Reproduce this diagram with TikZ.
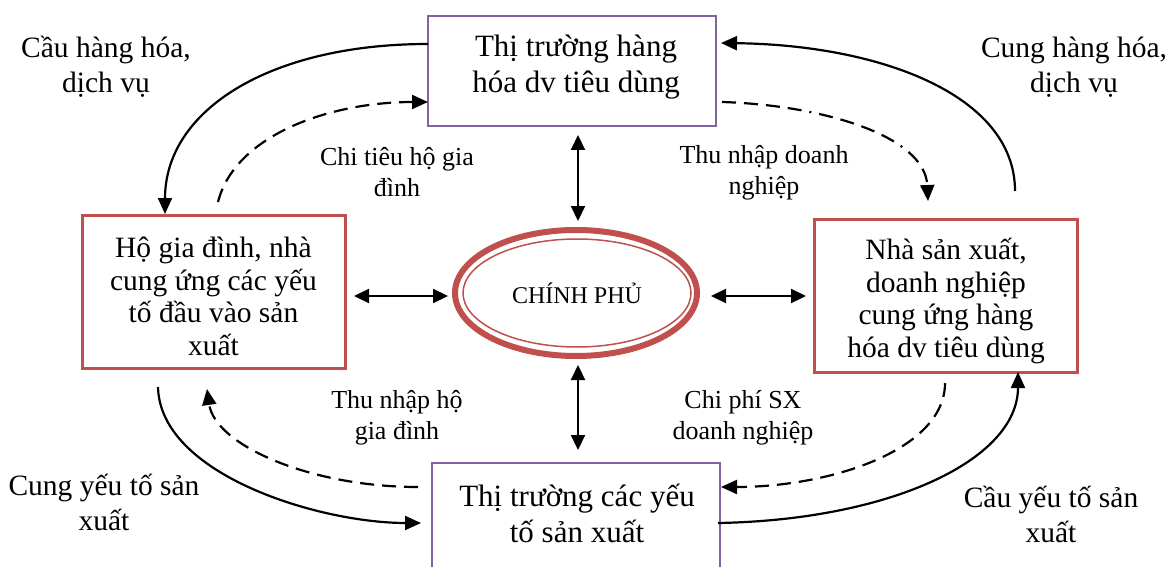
\documentclass[tikz,border=0pt]{standalone}
\usepackage{fontspec}
\setmainfont{Liberation Serif}
\usetikzlibrary{arrows.meta,shapes.geometric}
\definecolor{boxred}{RGB}{192,80,77}
\definecolor{boxpurple}{RGB}{128,100,162}
\tikzset{
  redbox/.style={draw=boxred,line width=3pt,minimum width=263pt,minimum height=153pt,inner sep=0pt},
  redtext/.style={align=center,font=\fontsize{29.5}{32.5}\selectfont,inner sep=0pt},
  purplebox/.style={draw=boxpurple,line width=2pt,minimum width=288pt,minimum height=110pt,inner sep=0pt},
  purpletext/.style={align=center,font=\fontsize{31}{36}\selectfont,inner sep=0pt},
  flow/.style={line width=2.2pt,-{Triangle[length=16pt,width=14pt]}},
  dflow/.style={flow,dash pattern=on 14pt off 8pt},
  ddflow/.style={flow,dash pattern=on 14pt off 8pt on 14pt off 8pt on 14pt off 8pt on 14pt off 8pt on 2pt off 8pt},
  both/.style={line width=2.2pt,{Triangle[length=15pt,width=14pt]}-{Triangle[length=15pt,width=14pt]}},
  biglabel/.style={align=center,font=\fontsize{29.5}{35}\selectfont,inner sep=0pt},
  smalllabel/.style={align=center,font=\fontsize{26}{30.5}\selectfont,inner sep=0pt}
}
\begin{document}
\begin{tikzpicture}[x=1pt,y=-1pt]
\useasboundingbox (0,0) rectangle (1173,567);
\fill[white] (0,0) rectangle (1173,567);
\clip (0,0) rectangle (1173,567);
% boxes
\node[purplebox] (top) at (572,71) {};
\node[purpletext] (toptext) at (576,67) {Thị trường hàng\\hóa dv tiêu dùng};
\node[purplebox,minimum height=140pt] (bot) at (576,533) {};
\node[purpletext] (bottext) at (577,513) {Thị trường các yếu\\tố sản xuất};
\node[redbox] (left) at (213.5,291.5) {};
\node[redtext] (lefttext) at (213.5,296.5) {Hộ gia đình, nhà\\cung ứng các yếu\\tố đầu vào sản\\xuất};
\node[redbox] (right) at (946,295.5) {};
\node[redtext] (righttext) at (946,301) {Nhà sản xuất,\\doanh nghiệp\\cung ứng hàng\\hóa dv tiêu dùng};
% ellipse
\node[ellipse,draw=boxred,line width=6pt,minimum width=242pt,minimum height=126pt,inner sep=0pt] (gov) at (576,293) {};
\node[ellipse,draw=boxred,line width=1.5pt,minimum width=228pt,minimum height=108pt,inner sep=0pt,font=\fontsize{24}{28}\selectfont] (govin) at (577,293) {CHÍNH PHỦ};
% straight arrows
\coordinate (t1) at (578,135); \coordinate (t2) at (578,221);
\coordinate (b1) at (578,365); \coordinate (b2) at (578,450);
\coordinate (l1) at (354,296); \coordinate (l2) at (448,296);
\coordinate (r1) at (711,296); \coordinate (r2) at (806,296);
\draw[both] (t1) -- (t2);
\draw[both] (b1) -- (b2);
\draw[both] (l1) -- (l2);
\draw[both] (r1) -- (r2);
% curves top-left
\coordinate (a1s) at (428,44); \coordinate (a1e) at (165,214);
\draw[flow] (a1s) .. controls (270,44) and (165,110) .. (a1e);
\coordinate (a2s) at (218,202); \coordinate (a2e) at (428,102);
\draw[dflow] (a2s) .. controls (235,135) and (330,102) .. (a2e);
% curves top-right
\coordinate (a3s) at (1015,191); \coordinate (a3e) at (721,43);
\draw[flow] (a3s) .. controls (1015,95) and (880,45) .. (a3e);
\coordinate (a4s) at (722,102); \coordinate (a4e) at (928,201);
\draw[ddflow] (a4s) .. controls (820,105) and (925,135) .. (a4e);
% curves bottom-left
\coordinate (a5s) at (158,387); \coordinate (a5e) at (421,523);
\draw[flow] (a5s) .. controls (160,475) and (320,523) .. (a5e);
\coordinate (a6s) at (418,487); \coordinate (a6e) at (207,389);
\draw[dflow] (a6s) .. controls (310,487) and (215,445) .. (a6e);
% curves bottom-right
\coordinate (a7s) at (945,383); \coordinate (a7e) at (721,487);
\draw[dflow] (a7s) .. controls (945,450) and (830,487) .. (a7e);
\coordinate (a8s) at (718,523); \coordinate (a8e) at (1018,372);
\draw[flow] (a8s) .. controls (890,520) and (1018,460) .. (a8e);
% labels
\node[biglabel] (lb1) at (106,67) {Cầu hàng hóa,\\dịch vụ};
\node[biglabel] (lb2) at (1074,67) {Cung hàng hóa,\\dịch vụ};
\node[biglabel] (lb3) at (104,502) {Cung yếu tố sản\\xuất};
\node[biglabel] (lb4) at (1051,514) {Cầu yếu tố sản\\xuất};
\node[smalllabel] (lb5) at (397,172) {Chi tiêu hộ gia\\đình};
\node[smalllabel] (lb6) at (764,173) {Thu nhập doanh\\nghiệp};
\node[smalllabel] (lb7) at (397,418) {Thu nhập hộ\\gia đình};
\node[smalllabel] (lb8) at (743,418) {Chi phí SX\\doanh nghiệp};
\end{tikzpicture}
\end{document}
